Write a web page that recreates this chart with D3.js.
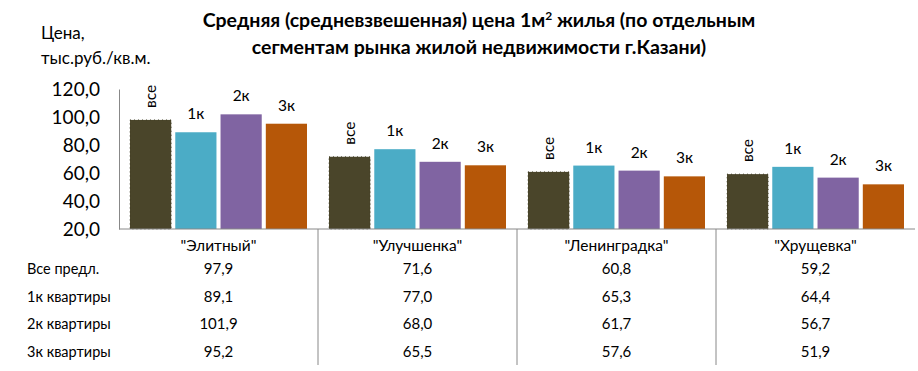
<!DOCTYPE html>
<html>
<head>
<meta charset="utf-8">
<script src="https://d3js.org/d3.v7.min.js"></script>
<style>
  body { margin: 0; background: #fff; }
  text { font-family: Lato, "Open Sans", sans-serif; fill: #000; }
</style>
</head>
<body>
<div id="chart"></div>
<script>
// data
var categories = ['"Элитный"', '"Улучшенка"', '"Ленинградка"', '"Хрущевка"'];
var seriesNames = ["Все предл.", "1к квартиры", "2к квартиры", "3к квартиры"];
var barLabels = ["все", "1к", "2к", "3к"];
var seriesColors = ["#4a452a", "#4bacc6", "#8064a2", "#b65708"];
var valsAll = [97.9, 71.6, 60.8, 59.2];
var vals1k = [89.1, 77.0, 65.3, 64.4];
var vals2k = [101.9, 68.0, 61.7, 56.7];
var vals3k = [95.2, 65.5, 57.6, 51.9];
var yTicks = [20, 40, 60, 80, 100, 120];

var series = [valsAll, vals1k, vals2k, vals3k];
var fmt = function(v) { return d3.format(".1f")(v).replace(".", ","); };

var W = 918, H = 371;
var svg = d3.select("#chart").append("svg")
    .attr("width", W).attr("height", H);

var plot = { left: 119, right: 915, top: 89, bottom: 229 };

var x0 = d3.scaleBand().domain(categories).range([plot.left, plot.right]);
var x1 = d3.scaleBand().domain(d3.range(4))
    .range([11, x0.bandwidth() - 11]).paddingInner(0.09);
var y = d3.scaleLinear().domain([20, 120]).range([plot.bottom, plot.top]);

// title
var title = svg.append("text")
    .attr("text-anchor", "middle")
    .style("font-weight", "bold").style("font-size", "19.5px");
title.append("tspan").attr("x", 479).attr("y", 27).text("Средняя (средневзвешенная) цена 1м");
title.append("tspan").attr("dy", -7).style("font-size", "12px").text("2");
title.append("tspan").attr("dy", 7).text(" жилья (по отдельным");
svg.append("text").attr("x", 479).attr("y", 54)
    .attr("text-anchor", "middle")
    .style("font-weight", "bold").style("font-size", "19.5px")
    .text("сегментам рынка жилой недвижимости г.Казани)");

// y axis label
svg.append("text").attr("x", 41).attr("y", 39).style("font-size", "17px").text("Цена,");
svg.append("text").attr("x", 41).attr("y", 64).style("font-size", "17px").text("тыс.руб./кв.м.");

// y axis
var yAxis = svg.append("g")
    .attr("transform", "translate(" + plot.left + ",0)")
    .call(d3.axisLeft(y).tickValues(yTicks).tickFormat(fmt).tickSize(0).tickPadding(19));
yAxis.select(".domain").attr("stroke", "#888");
yAxis.selectAll("text").style("font-size", "19px").attr("fill", "#000");

// bars
var groups = svg.append("g").selectAll("g")
    .data(categories).enter().append("g")
    .attr("transform", function(d) { return "translate(" + x0(d) + ",0)"; });

groups.selectAll("rect")
    .data(function(d, i) { return series.map(function(s, k) { return { k: k, v: s[i] }; }); })
    .enter().append("rect")
    .attr("x", function(d) { return x1(d.k); })
    .attr("y", function(d) { return y(d.v); })
    .attr("width", x1.bandwidth())
    .attr("height", function(d) { return plot.bottom - y(d.v); })
    .attr("fill", function(d) { return seriesColors[d.k]; })
    .attr("stroke", function(d) { return d.k === 0 ? "#3a3720" : "none"; })
    .attr("stroke-width", 0.8)
    .attr("stroke-dasharray", "1,3");

// labels above bars
groups.selectAll("text.lbl")
    .data(function(d, i) { return series.map(function(s, k) { return { k: k, v: s[i] }; }); })
    .enter().append("text")
    .attr("class", "lbl")
    .style("font-size", "15.5px")
    .attr("text-anchor", function(d) { return d.k === 0 ? "start" : "middle"; })
    .attr("transform", function(d) {
        var cx = x1(d.k) + x1.bandwidth() / 2;
        if (d.k === 0) return "translate(" + (cx + 5) + "," + (y(d.v) - 12) + ") rotate(-90)";
        return "translate(" + cx + "," + (y(d.v) - 13) + ")";
    })
    .text(function(d) { return barLabels[d.k]; });

// bottom axis line
svg.append("line")
    .attr("x1", plot.left).attr("x2", plot.right)
    .attr("y1", plot.bottom).attr("y2", plot.bottom)
    .attr("stroke", "#888");

// category separators running through the table
svg.append("g").selectAll("line")
    .data(categories.slice(1)).enter().append("line")
    .attr("x1", function(d) { return x0(d); }).attr("x2", function(d) { return x0(d); })
    .attr("y1", plot.bottom).attr("y2", 365)
    .attr("stroke", "#888");

// category labels
svg.append("g").selectAll("text")
    .data(categories).enter().append("text")
    .attr("x", function(d) { return x0(d) + x0.bandwidth() / 2; })
    .attr("y", 251)
    .attr("text-anchor", "middle")
    .style("font-size", "15.5px")
    .text(function(d) { return d; });

// data table
var rowY = [274, 302, 329, 357];
seriesNames.forEach(function(name, k) {
    svg.append("text").attr("x", 27).attr("y", rowY[k])
        .style("font-size", "14.5px").text(name);
    svg.append("g").selectAll("text")
        .data(categories).enter().append("text")
        .attr("x", function(d) { return x0(d) + x0.bandwidth() / 2; })
        .attr("y", rowY[k])
        .attr("text-anchor", "middle")
        .style("font-size", "15px")
        .text(function(d, i) { return fmt(series[k][i]); });
});
</script>
</body>
</html>
